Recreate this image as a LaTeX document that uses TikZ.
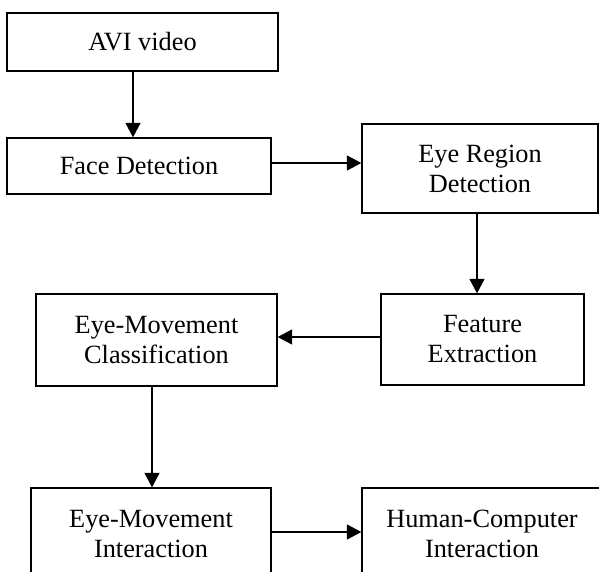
\documentclass[tikz,border=0pt]{standalone}
\usepackage{fontspec}
\setmainfont{Liberation Serif}
\usetikzlibrary{arrows.meta}
\tikzset{
  box/.style={draw=black, line width=1.3pt, inner sep=0pt, align=center,
    font=\fontsize{26.3}{30}\selectfont},
  arr/.style={draw=black, line width=1.3pt, -{Triangle[width=15pt,length=14.5pt]}}
}
\begin{document}
\begin{tikzpicture}[x=1pt,y=-1pt]
\useasboundingbox (0,0) rectangle (599,572);
\clip (0,0) rectangle (599,572);
\node[box, minimum width=271pt, minimum height=58pt] (avi) at (142.5,42) {AVI video};
\node[box, minimum width=264pt, minimum height=56pt] (face) at (139,166) {Face Detection};
\node[box, minimum width=236pt, minimum height=89pt] (erd) at (480,168.5) {Eye Region\\Detection};
\node[box, minimum width=203pt, minimum height=91pt] (feat) at (482.5,339.5) {Feature\\Extraction};
\node[box, minimum width=241pt, minimum height=92pt] (emc) at (156.5,340) {Eye-Movement\\Classification};
\node[box, minimum width=240pt, minimum height=92pt] (emi) at (151,534) {Eye-Movement\\Interaction};
\node[box, minimum width=240pt, minimum height=92pt] (hci) at (482,534) {Human-Computer\\Interaction};
\draw[arr] ([xshift=-9.5pt]avi.south) -- ([xshift=-6pt]face.north);
\draw[arr] ([yshift=3pt]face.east) -- ([yshift=5.5pt]erd.west);
\draw[arr] ([xshift=-3pt]erd.south) -- ([xshift=-5.5pt]feat.north);
\draw[arr] ([yshift=2.5pt]feat.west) -- ([yshift=3pt]emc.east);
\draw[arr] ([xshift=-4.5pt]emc.south) -- ([xshift=1pt]emi.north);
\draw[arr] ([yshift=2pt]emi.east) -- ([yshift=2pt]hci.west);
\end{tikzpicture}
\end{document}
